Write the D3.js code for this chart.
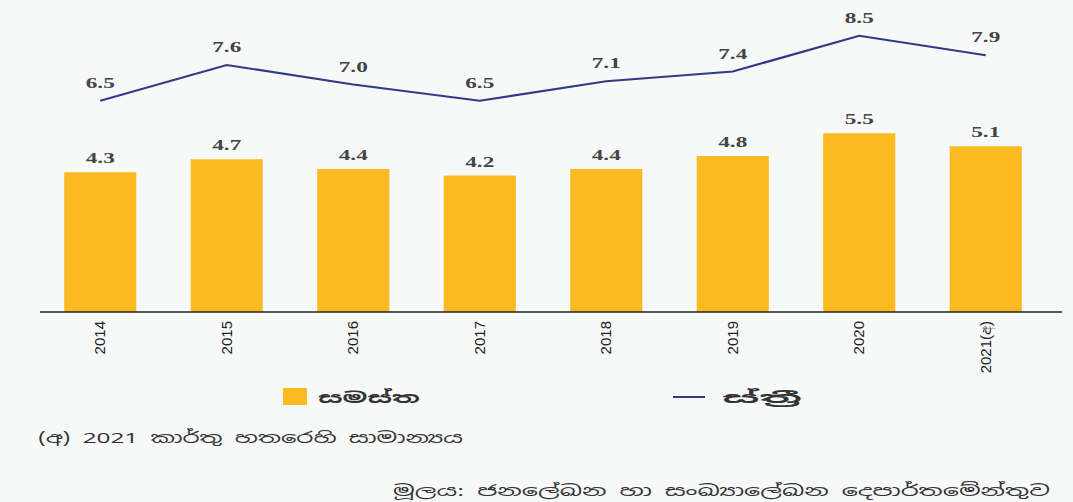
<!DOCTYPE html>
<html lang="si">
  <head>
    <meta charset="UTF-8" />
    <title>Unemployment rate chart</title>
    <script src="https://d3js.org/d3.v7.min.js"></script>
    <style>
      body {
        margin: 0;
        background: #f7f9f9;
      }
      svg {
        display: block;
      }
      .val {
        font-family: "Liberation Serif", "DejaVu Serif", serif;
        font-size: 15px;
        font-weight: bold;
        fill: #444;
        text-anchor: middle;
      }
      .tick-label {
        font-family: "Liberation Sans Narrow", "Liberation Sans", sans-serif;
        font-size: 15px;
        fill: #222;
      }
      .note {
        font-family: "Noto Sans Sinhala", "Noto Sans", sans-serif;
        font-size: 15px;
        fill: #333;
      }
    </style>
  </head>
  <body>
    <svg width="1073" height="502"></svg>
    <script>
      // data
      const years = ["2014", "2015", "2016", "2017", "2018", "2019", "2020", "2021(අ)"];
      const total = [4.3, 4.7, 4.4, 4.2, 4.4, 4.8, 5.5, 5.1];
      const female = [6.5, 7.6, 7.0, 6.5, 7.1, 7.4, 8.5, 7.9];

      const svg = d3.select("svg");

      const x = d3.scaleBand().domain(years).range([37, 1049]).paddingInner(0.43).paddingOuter(0.215);
      const y = d3.scaleLinear().domain([0, 9.6]).range([312, 0]);
      const cx = (d) => x(d) + x.bandwidth() / 2;

      // bars
      svg.selectAll(".bar")
        .data(years)
        .enter()
        .append("rect")
        .attr("class", "bar")
        .attr("x", (d) => x(d))
        .attr("y", (d, i) => y(total[i]))
        .attr("width", x.bandwidth())
        .attr("height", (d, i) => y(0) - y(total[i]))
        .attr("fill", "#fbb922");

      // the original picture is stretched sideways, so the labels are too
      svg.selectAll(".bar-label")
        .data(years)
        .enter()
        .append("text")
        .attr("class", "val")
        .attr("transform", (d, i) => `translate(${cx(d)},${y(total[i]) - 9}) scale(1.55,1)`)
        .text((d, i) => total[i].toFixed(1));

      // axis
      svg.append("line")
        .attr("x1", 40)
        .attr("x2", 1062)
        .attr("y1", y(0))
        .attr("y2", y(0))
        .attr("stroke", "#222")
        .attr("stroke-width", 1.5);

      svg.selectAll(".tick-label")
        .data(years)
        .enter()
        .append("text")
        .attr("class", "tick-label")
        .attr("transform", (d) => `translate(${cx(d) + 5},321) rotate(-90)`)
        .attr("text-anchor", "end")
        .text((d) => d);

      // female line
      const line = d3.line()
        .x((d, i) => cx(years[i]))
        .y((d) => y(d));

      svg.append("path")
        .datum(female)
        .attr("d", line)
        .attr("fill", "none")
        .attr("stroke", "#313a85")
        .attr("stroke-width", 2.2);

      svg.selectAll(".line-label")
        .data(years)
        .enter()
        .append("text")
        .attr("class", "val")
        .attr("transform", (d, i) => `translate(${cx(d)},${y(female[i]) - 13}) scale(1.55,1)`)
        .text((d, i) => female[i].toFixed(1));

      // legend
      svg.append("rect")
        .attr("x", 283).attr("y", 388)
        .attr("width", 24).attr("height", 17)
        .attr("fill", "#fbb922");
      svg.append("text")
        .attr("class", "note")
        .attr("x", 318).attr("y", 403)
        .attr("textLength", 102)
        .attr("lengthAdjust", "spacingAndGlyphs")
        .style("font-weight", "bold")
        .text("සමස්ත");
      svg.append("line")
        .attr("x1", 673).attr("x2", 705)
        .attr("y1", 397).attr("y2", 397)
        .attr("stroke", "#313a85")
        .attr("stroke-width", 2);
      svg.append("text")
        .attr("class", "note")
        .attr("x", 722).attr("y", 403)
        .attr("textLength", 80)
        .attr("lengthAdjust", "spacingAndGlyphs")
        .style("font-weight", "bold")
        .text("ස්ත්‍රී");

      // notes
      svg.append("text")
        .attr("class", "note")
        .attr("x", 38).attr("y", 443)
        .attr("textLength", 425)
        .attr("lengthAdjust", "spacingAndGlyphs")
        .text("(අ) 2021 කාර්තු හතරෙහි සාමාන්‍යය");
      svg.append("text")
        .attr("class", "note")
        .attr("x", 393).attr("y", 496)
        .attr("textLength", 657)
        .attr("lengthAdjust", "spacingAndGlyphs")
        .text("මූලය: ජනලේඛන හා සංඛ්‍යාලේඛන දෙපාර්තමේන්තුව");
    </script>
  </body>
</html>
